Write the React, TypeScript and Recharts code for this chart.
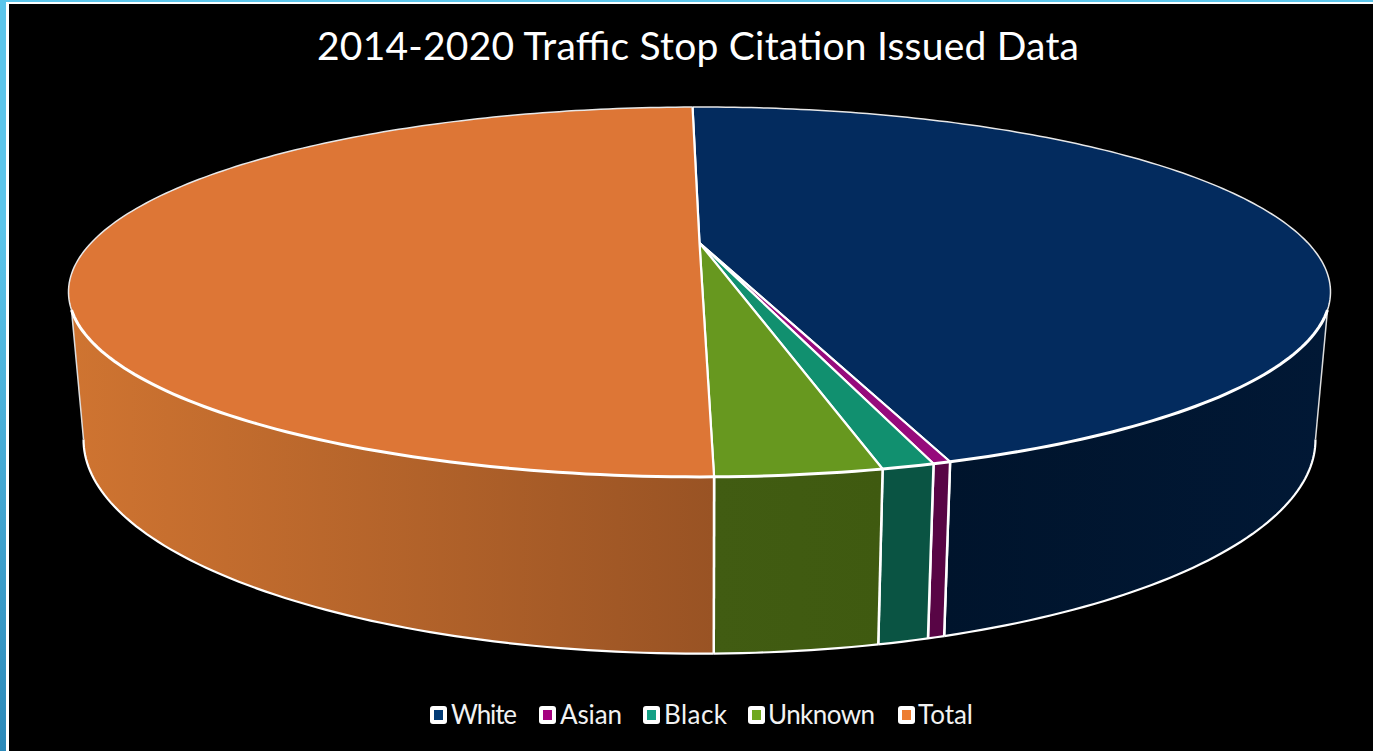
import React from "react";
import { PieChart, Pie, Legend } from "recharts";

const categories = ["White", "Asian", "Black", "Unknown", "Total"];
const citationShares = [90.4, 0.7, 2.1, 6.6, 100];
const titleText = "2014-2020 Traffic Stop Citation Issued Data";

const topColors = ["#032b5e", "#960a7c", "#11906f", "#67981f", "#dd7636"];
const legendColors = ["#003a75", "#a5027f", "#14a085", "#6fa820", "#ed7d31"];
const wallFromColors = ["#00142c", "#580545", "#0a5443", "#415c12", "#cf7431"];
const wallToColors = ["#011835", "#580545", "#0a5443", "#3f5a10", "#995324"];

const legendSwatchLeft = [430, 539, 643, 748, 898];
const legendTextLeft = [451, 560, 664, 768, 918];
const legendTextWidth = [66, 62, 63, 107, 55];

const chartData = categories.map((name, i) => ({ name, value: citationShares[i] }));

// perspective disc: the slice angles from the Pie are projected on two planes
const K = 0.2647;
const CX = 699.5;
const TOP = { a: 608.5, b: 172, y: 243 };
const BOTTOM = { a: 594, b: 199, y: 383 };
const SIL_TOP = 110.7;
const SIL_BOTTOM = 105.3;

const project = (plane: { a: number; b: number; y: number }, deg: number) => {
  const r = (deg * Math.PI) / 180;
  const X = Math.sin(r);
  const Y = Math.cos(r);
  const d = 1 + K * Y;
  return [CX + (plane.a * X) / d, plane.y - (plane.b * Y) / d];
};

const arcPts = (plane: { a: number; b: number; y: number }, from: number, to: number) => {
  const n = Math.max(1, Math.ceil(Math.abs(to - from)));
  const pts: number[][] = [];
  for (let i = 0; i <= n; i++) pts.push(project(plane, from + ((to - from) * i) / n));
  return pts;
};

const toD = (pts: number[][]) =>
  pts.map((p, i) => `${i ? "L" : "M"}${p[0].toFixed(2)} ${p[1].toFixed(2)}`).join("");

const Slice3D = (props: any) => {
  const t1 = 90 - props.startAngle;
  const t2 = 90 - props.endAngle;
  const idx = categories.indexOf(props.name ?? props.payload?.name);
  const center = [CX, TOP.y];
  const wedge = toD([center, ...arcPts(TOP, t1, t2)]) + "Z";
  const gid = `wall-${idx}`;

  const wallTopA = Math.max(t1, SIL_TOP);
  const wallTopB = Math.min(t2, 360 - SIL_TOP);
  const hasWall = wallTopB > wallTopA;
  const wallBotA = t1 < SIL_TOP ? SIL_BOTTOM : t1;
  const wallBotB = t2 > 360 - SIL_TOP ? 360 - SIL_BOTTOM : t2;
  const topArc = hasWall ? arcPts(TOP, wallTopA, wallTopB) : [];
  const botArc = hasWall ? arcPts(BOTTOM, wallBotA, wallBotB) : [];
  const wall = hasWall ? toD([...topArc, ...botArc.slice().reverse()]) + "Z" : "";
  const xs = hasWall ? [...topArc, ...botArc].map((p) => p[0]) : [0, 1];

  // back part of the rim is thin, front part heavy
  const rims: React.ReactNode[] = [];
  const thinA = [t1, Math.min(t2, SIL_TOP)];
  const thinB = [Math.max(t1, 360 - SIL_TOP), t2];
  if (thinA[1] > thinA[0]) rims.push(<path key="a" d={toD(arcPts(TOP, thinA[0], thinA[1]))} fill="none" stroke="#e8e8e8" strokeWidth={1.5} />);
  if (thinB[1] > thinB[0]) rims.push(<path key="b" d={toD(arcPts(TOP, thinB[0], thinB[1]))} fill="none" stroke="#e8e8e8" strokeWidth={1.5} />);

  return (
    <g>
      {hasWall && (
        <>
          <defs>
            <linearGradient id={gid} gradientUnits="userSpaceOnUse" x1={Math.min(...xs)} x2={Math.max(...xs)} y1={0} y2={0}>
              <stop offset="0" stopColor={wallFromColors[idx]} />
              <stop offset="1" stopColor={wallToColors[idx]} />
            </linearGradient>
          </defs>
          <path d={wall} fill={`url(#${gid})`} stroke="none" />
          <path d={toD(botArc)} fill="none" stroke="#ffffff" strokeWidth={2.2} />
          {t1 < SIL_TOP && <path d={toD([topArc[0], botArc[0]])} stroke="#dddddd" strokeWidth={1.5} fill="none" />}
          {t2 > 360 - SIL_TOP && (
            <path d={toD([topArc[topArc.length - 1], botArc[botArc.length - 1]])} stroke="#dddddd" strokeWidth={1.5} fill="none" />
          )}
          {t1 >= SIL_TOP && <path d={toD([topArc[0], botArc[0]])} stroke="#ffffff" strokeWidth={2.5} fill="none" />}
          {t2 <= 360 - SIL_TOP && (
            <path d={toD([topArc[topArc.length - 1], botArc[botArc.length - 1]])} stroke="#ffffff" strokeWidth={2.5} fill="none" />
          )}
        </>
      )}
      <path d={wedge} fill={topColors[idx]} stroke="none" />
      <path d={toD([project(TOP, t1), center, project(TOP, t2)])} fill="none" stroke="#ffffff" strokeWidth={2.2} strokeLinejoin="miter" />
      {rims}
      {hasWall && <path d={toD(topArc)} fill="none" stroke="#ffffff" strokeWidth={3} />}
    </g>
  );
};

const LegendBox = () => (
  <div style={{ position: "relative", width: 1373, height: 40 }}>
    {categories.map((c, i) => (
      <React.Fragment key={c}>
        <div
          style={{
            position: "absolute",
            left: legendSwatchLeft[i],
            top: 5,
            width: 17,
            height: 18,
            boxSizing: "border-box",
            background: "#fff",
            borderRadius: 3,
            padding: "4px 4px",
          }}
        >
          <div style={{ width: "100%", height: "100%", background: legendColors[i] }} />
        </div>
        <svg style={{ position: "absolute", left: legendTextLeft[i], top: 0, overflow: "visible" }} width={legendTextWidth[i]} height={30}>
          <text x={0} y={23} textLength={legendTextWidth[i]} lengthAdjust="spacing" fill="#f2f2f2" fontFamily="Lato, sans-serif" fontWeight={400} fontSize={26}>
            {c}
          </text>
        </svg>
      </React.Fragment>
    ))}
  </div>
);

export default function App() {
  return (
    <div style={{ position: "fixed", left: 0, top: 0, width: 1373, height: 751, background: "#000", overflow: "hidden" }}>
      <div style={{ position: "absolute", left: 0, top: 0, width: 1373, height: 2, background: "#5cc5ea" }} />
      <div style={{ position: "absolute", left: 0, top: 0, width: 6, height: 751, background: "linear-gradient(#5cc5ea, #5cc5ea 30%, #2c8aba)" }} />
      <div style={{ position: "absolute", left: 6, top: 2, width: 1367, height: 2, background: "#fff" }} />
      <div style={{ position: "absolute", left: 6, top: 2, width: 2.5, height: 749, background: "#fff" }} />
      <PieChart width={1373} height={751} margin={{ top: 0, right: 0, bottom: 0, left: 0 }} style={{ position: "absolute", left: 0, top: 0 }}>
        <text x={317} y={60} textLength={762} lengthAdjust="spacing" fill="#ffffff" fontFamily="Lato, sans-serif" fontWeight={400} fontSize={39}>
          {titleText}
        </text>
        <Pie
          data={chartData}
          dataKey="value"
          nameKey="name"
          cx={699.5}
          cy={243}
          outerRadius={136}
          startAngle={90.83}
          endAngle={-269.17}
          stroke="none"
          shape={Slice3D}
          isAnimationActive={false}
        />
        <Legend content={<LegendBox />} wrapperStyle={{ position: "absolute", left: 0, top: 701, width: 1373, height: 40 }} />
      </PieChart>
    </div>
  );
}
